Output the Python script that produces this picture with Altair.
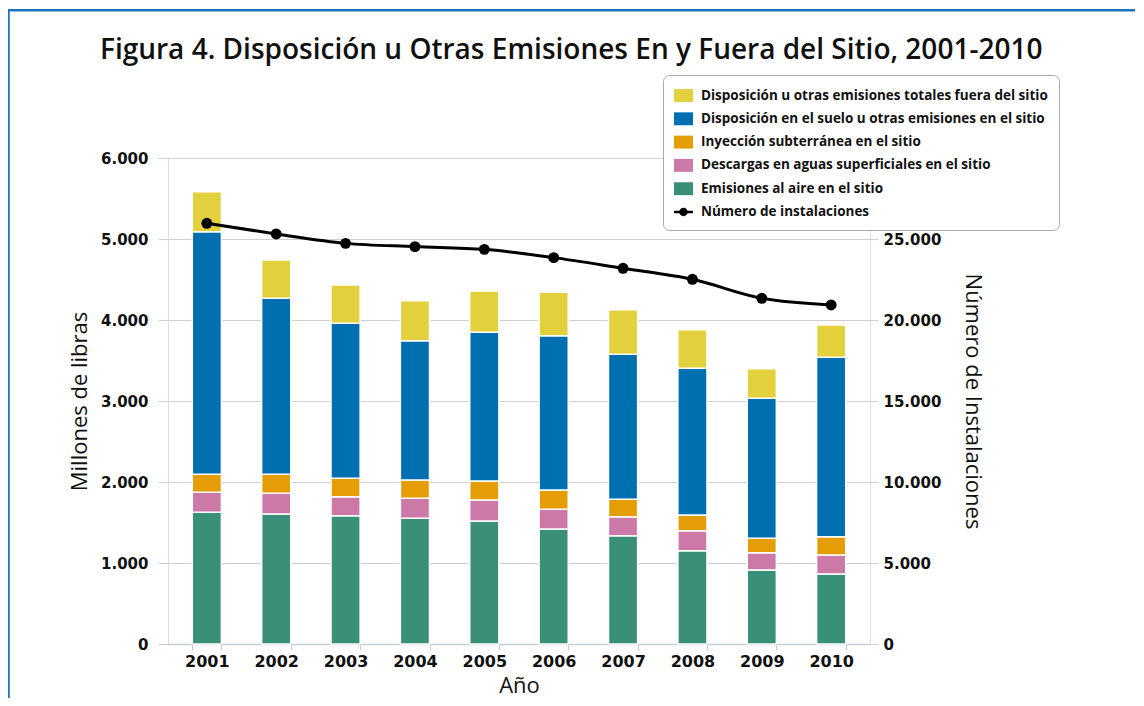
import altair as alt
import pandas as pd

# ---------------- data ----------------
anios = ["2001", "2002", "2003", "2004", "2005", "2006", "2007", "2008", "2009", "2010"]

serie_fuera = "Disposición u otras emisiones totales fuera del sitio"
serie_suelo = "Disposición en el suelo u otras emisiones en el sitio"
serie_inyeccion = "Inyección subterránea en el sitio"
serie_agua = "Descargas en aguas superficiales en el sitio"
serie_aire = "Emisiones al aire en el sitio"
serie_linea = "Número de instalaciones"

# millones de libras
aire = [1626, 1605, 1584, 1551, 1519, 1420, 1337, 1152, 914, 864]
agua = [247, 255, 235, 247, 259, 243, 235, 247, 214, 235]
inyeccion = [222, 235, 226, 227, 234, 238, 214, 194, 177, 226]
suelo = [2995, 2173, 1914, 1720, 1836, 1906, 1790, 1810, 1728, 2214]
fuera = [494, 473, 473, 494, 510, 535, 552, 478, 366, 399]

# número de instalaciones
instalaciones = [25970, 25310, 24730, 24530, 24360, 23850, 23190, 22510, 21340, 20930]

series_legend = [serie_fuera, serie_suelo, serie_inyeccion, serie_agua, serie_aire, serie_linea]
colores = ["#E2D03C", "#006FB0", "#E59D06", "#CC79A7", "#3A9076", "#000000"]

left_ticks = [0, 1000, 2000, 3000, 4000, 5000, 6000]
right_ticks = [0, 5000, 10000, 15000, 20000, 25000]

# ---------------- tables ----------------
stack_series = [(serie_aire, aire), (serie_agua, agua), (serie_inyeccion, inyeccion),
                (serie_suelo, suelo), (serie_fuera, fuera)]
rows = []
for orden, (nombre, vals) in enumerate(stack_series):
    for a, v in zip(anios, vals):
        rows.append({"anio": a, "serie": nombre, "valor": v, "orden": orden})
df_bars = pd.DataFrame(rows)
df_line = pd.DataFrame({"anio": anios, "instalaciones": instalaciones})
df_legend = pd.DataFrame({"serie": series_legend})
df_frame = pd.DataFrame({"k": [0]})

rect_path = "M-1,-0.68H1V0.68H-1Z"
line_path = ("M-1,-0.12H1V0.12H-1Z"
             "M0.44,0A0.44,0.44,0,1,1,-0.44,0A0.44,0.44,0,1,1,0.44,0Z")
shapes = [rect_path] * 5 + [line_path]

label_expr = "replace(datum.label, ',', '.')"

x_enc = alt.X(
    "anio:N",
    sort=anios,
    scale=alt.Scale(paddingInner=0.58, paddingOuter=0.35),
    axis=alt.Axis(
        title="Año", labelAngle=0, tickBand="extent", tickSize=6,
        domainColor="#C5CDD8", tickColor="#C5CDD8", domainWidth=1.5,
        labelFont="DejaVu Sans", labelFontWeight="bold", labelFontSize=16,
        labelColor="#111111", labelPadding=3,
        titleFont="Open Sans", titleFontSize=22, titleFontWeight="normal",
        titleColor="#111111", titlePadding=6,
    ),
)

color_scale = alt.Scale(domain=series_legend, range=colores)

bars = alt.Chart(df_bars).mark_bar(stroke="white", strokeWidth=1.5).encode(
    x=x_enc,
    y=alt.Y(
        "sum(valor):Q",
        scale=alt.Scale(domain=[0, 6000], nice=False),
        axis=alt.Axis(
            title="Millones de libras", values=left_ticks, format=",d", labelExpr=label_expr,
            domain=False, tickSize=10, tickColor="#CFCFCF", gridColor="#CFCFCF", grid=True,
            labelFont="DejaVu Sans", labelFontWeight="bold", labelFontSize=15,
            labelColor="#111111", labelPadding=10,
            titleFont="Open Sans", titleFontSize=22, titleFontWeight="normal",
            titleColor="#111111", titlePadding=9,
        ),
    ),
    color=alt.Color("serie:N", scale=color_scale, legend=alt.Legend(
        title=None, orient="none", legendX=495, legendY=-83,
        strokeColor="#AAAAAA", fillColor="white", cornerRadius=6, padding=11,
        labelFont="Open Sans", labelFontSize=13.5, labelFontWeight="bold",
        labelColor="#111111", symbolSize=361, symbolStrokeWidth=0, rowPadding=7.3,
        labelOffset=8, labelLimit=400,
    )),
    order=alt.Order("orden:Q", sort="ascending"),
)

legend_layer = alt.Chart(df_legend).mark_point(filled=True, opacity=1).encode(
    color=alt.Color("serie:N", scale=color_scale),
    shape=alt.Shape("serie:N", scale=alt.Scale(domain=series_legend, range=shapes)),
).transform_filter("false")

# decorative page frame (top and left edges), kept inside the canvas
frame_left = alt.Chart(df_frame).mark_rule(color="#1C74BF", strokeWidth=2.5).encode(
    x=alt.value(-159.5), x2=alt.value(-159.5), y=alt.value(-149), y2=alt.value(540),
)
frame_top = alt.Chart(df_frame).mark_rule(color="#1C74BF", strokeWidth=2.5).encode(
    x=alt.value(-160.5), x2=alt.value(967), y=alt.value(-147.7), y2=alt.value(-147.7),
)

y_right = alt.Y(
    "instalaciones:Q",
    scale=alt.Scale(domain=[0, 30000], nice=False),
    axis=alt.Axis(
        title="Número de Instalaciones", orient="right", values=right_ticks,
        format=",d", labelExpr=label_expr, grid=False, domain=False,
        tickSize=8, tickColor="#CFCFCF",
        labelFont="DejaVu Sans", labelFontWeight="bold", labelFontSize=15,
        labelColor="#111111", labelPadding=5,
        titleFont="Open Sans", titleFontSize=22, titleFontWeight="normal",
        titleColor="#111111", titlePadding=20,
    ),
)

line = alt.Chart(df_line).mark_line(
    color="black", strokeWidth=3, interpolate="monotone"
).encode(x=alt.X("anio:N", sort=anios), y=y_right)

pts = alt.Chart(df_line).mark_point(
    filled=True, color="black", size=120, opacity=1
).encode(x=alt.X("anio:N", sort=anios), y=y_right)

left = alt.layer(bars, legend_layer, frame_left, frame_top)
right = alt.layer(line, pts)

chart = alt.layer(left, right).resolve_scale(y="independent").properties(
    width=702, height=486,
    title=alt.TitleParams(
        "Figura 4. Disposición u  Otras Emisiones En y Fuera del Sitio, 2001-2010",
        anchor="start", frame="group", dx=-68, dy=57, fontSize=28, font="Open Sans",
        fontWeight=600, color="#111111", offset=0,
    ),
    autosize=alt.AutoSizeParams(type="none"),
    padding={"left": 160, "top": 150, "right": 266, "bottom": 54},
).configure_view(strokeWidth=0, stroke="transparent").configure(background="white")

chart.save("out.html", embed_options={"renderer": "svg", "actions": False})
